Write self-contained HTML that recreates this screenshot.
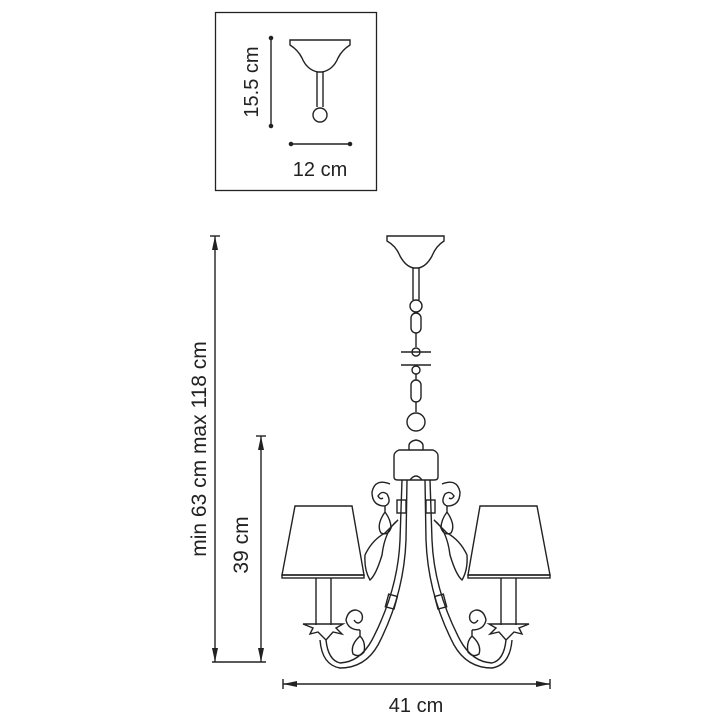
<!DOCTYPE html>
<html><head><style>
html,body{margin:0;padding:0;background:#fff;width:720px;height:720px;overflow:hidden}
svg{display:block}
text{font-family:"Liberation Sans","DejaVu Sans",sans-serif;fill:#222}
</style></head><body>
<svg width="720" height="720" viewBox="0 0 720 720" xmlns="http://www.w3.org/2000/svg">
<defs>
<marker id="a" viewBox="0 0 14 6" refX="14" refY="3" markerWidth="14" markerHeight="6" orient="auto-start-reverse" markerUnits="userSpaceOnUse"><path d="M0,0 L14,3 L0,6 z" fill="#222"/></marker>
</defs>
<g fill="none" stroke="#222" stroke-width="1.4">
<rect x="215.5" y="12.5" width="161" height="178" stroke-width="1.3"/>
<line x1="271" y1="38" x2="271" y2="126"/>
<circle cx="271" cy="38" r="1.6" fill="#222"/><circle cx="271" cy="126" r="1.6" fill="#222"/>
<line x1="291" y1="144" x2="350" y2="144"/>
<circle cx="291" cy="144" r="1.6" fill="#222"/><circle cx="350" cy="144" r="1.6" fill="#222"/>
<path d="M290,40 L350,40 L350,45 Q342,50 338,58 Q333,70 322,72 L318,72 Q307,70 302,58 Q298,50 290,45 Z"/>
<path d="M317,72 L317,107 M323,72 L323,107"/>
<circle cx="320" cy="115" r="7"/>
<line x1="215" y1="236" x2="215" y2="662" marker-start="url(#a)" marker-end="url(#a)"/>
<line x1="210" y1="236" x2="220" y2="236"/>
<line x1="261" y1="436" x2="261" y2="662" marker-start="url(#a)" marker-end="url(#a)"/>
<line x1="256" y1="436" x2="266" y2="436"/>
<line x1="212" y1="662" x2="266" y2="662"/>
<line x1="283" y1="684" x2="550" y2="684" marker-start="url(#a)" marker-end="url(#a)"/>
<line x1="283" y1="679" x2="283" y2="689"/><line x1="550" y1="679" x2="550" y2="689"/>
<path d="M387,236 L444,236 L444,241 Q436,246 432,256 Q426,267 418,268 L414,268 Q406,267 400,256 Q396,246 387,241 Z"/>
<path d="M413,268 L413,300 M419,268 L419,300"/>
<circle cx="416" cy="306" r="6"/>
<rect x="411" y="313" width="10" height="20" rx="5"/>
<line x1="416" y1="333" x2="416" y2="347"/>
<circle cx="416" cy="352" r="4"/>
<line x1="401" y1="352" x2="431" y2="352" stroke-width="1.6"/>
<line x1="401" y1="365" x2="431" y2="365" stroke-width="1.6"/>
<circle cx="416" cy="370" r="4"/>
<line x1="416" y1="374" x2="416" y2="380"/>
<rect x="411" y="380" width="10" height="22" rx="5"/>
<line x1="416" y1="402" x2="416" y2="412"/>
<circle cx="416" cy="422" r="9"/>
<path d="M409,450 L409,445 Q410,441 416,440 Q422,441 423,445 L423,450"/>
<path d="M399,450 L433,450 Q438,452 438,456 L438,477 Q438,480 434,480 L398,480 Q394,480 394,477 L394,456 Q394,452 399,450 Z"/>
<path d="M410,480 Q416,472 422,480"/>
<g id="L">
<path d="M402,480 L400,540 Q398,590 372,640 Q360,662 340,663 Q328,660 326,640"/>
<path d="M407,480 L406,540 Q404,595 378,645 Q365,668 340,668 Q322,665 320,640"/>
<rect x="397" y="500" width="9" height="13"/>
<rect x="387" y="595" width="9" height="13" transform="rotate(15 391 601)"/>
<path d="M390,484 Q375,478 372,492 Q372,506 385,506 Q392,503 387,494 Q382,490 378,496 Q380,500 383,498"/>
<path d="M385,506 L385,512 Q376,525 381,533 Q388,536 391,528 Q391,520 385,512"/>
<path d="M398,520 Q385,530 382,555 Q376,575 370,580 Q364,570 365,555 Q372,540 385,533 Z"/>
<path d="M360,630 Q348,630 346,620 Q348,610 356,610 Q364,612 362,620 Q358,626 354,620"/>
<path d="M360,630 L360,636 Q350,645 353,654 Q359,658 364,652 Q366,642 360,636"/>
<path d="M295,506 L352,506 L364,575 L282,575 Z"/>
<rect x="282" y="575" width="82" height="3"/>
<path d="M316,578 L316,625 M331,578 L331,625"/>
<path d="M303,624 L343,624 L336,628 L342,634 L333,632 L326,640 L318,632 L310,634 L313,628 Z"/>
</g>
<use href="#L" transform="translate(832,0) scale(-1,1)"/>
</g>
<text x="320" y="176" font-size="20" text-anchor="middle">12 cm</text>
<text transform="translate(258,82) rotate(-90)" font-size="20" text-anchor="middle">15.5 cm</text>
<text transform="translate(206,449) rotate(-90)" font-size="21" text-anchor="middle">min 63 cm max 118 cm</text>
<text transform="translate(248,545) rotate(-90)" font-size="21" text-anchor="middle">39 cm</text>
<text x="416" y="712" font-size="20" text-anchor="middle">41 cm</text>
</svg>
</body></html>
